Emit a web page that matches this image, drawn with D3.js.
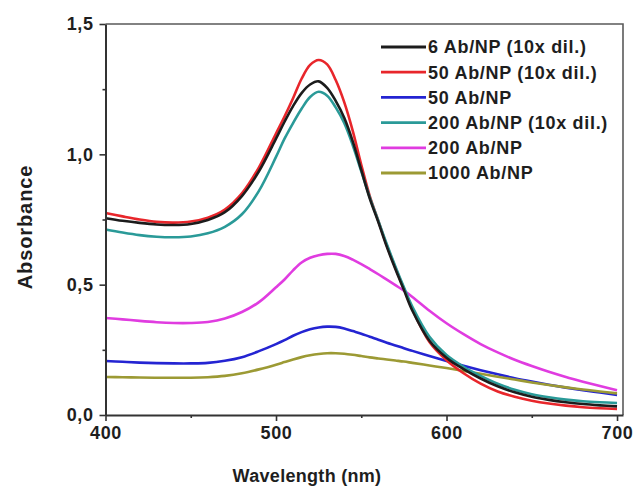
<!DOCTYPE html>
<html>
<head>
<meta charset="utf-8">
<script src="https://cdn.jsdelivr.net/npm/d3@7"></script>
<style>
  html, body { margin: 0; padding: 0; background: #fff; }
  svg { display: block; }
  text { font-family: "Liberation Sans", Arial, sans-serif; font-weight: bold; fill: #1e1e1e; }
</style>
</head>
<body>
<svg id="chart" width="634" height="486"></svg>
<script>
// Wavelength grid (nm), shared by all spectra
const wavelengths = [400, 410, 420, 430, 440, 450, 460, 470, 480, 490,
  500, 505, 510, 515, 520, 525, 530, 535, 540, 545, 550, 555, 560, 565, 570, 575, 580,
  590, 600, 610, 620, 630, 640, 650, 660, 670, 680, 690, 700];

// Absorbance spectra
const ab6dil = [0.755, 0.745, 0.737, 0.731, 0.729, 0.733, 0.748, 0.778, 0.840, 0.935,
  1.060, 1.125, 1.185, 1.235, 1.268, 1.280, 1.255, 1.205, 1.140, 1.050, 0.940, 0.830, 0.740, 0.645, 0.560, 0.480, 0.400,
  0.285, 0.220, 0.176, 0.140, 0.110, 0.087, 0.070, 0.058, 0.049, 0.042, 0.037, 0.033];
const ab50dil = [0.775, 0.762, 0.750, 0.741, 0.738, 0.742, 0.757, 0.788, 0.850, 0.950,
  1.080, 1.145, 1.215, 1.290, 1.343, 1.362, 1.345, 1.285, 1.200, 1.090, 0.960, 0.840, 0.745, 0.650, 0.565, 0.485, 0.405,
  0.280, 0.210, 0.160, 0.120, 0.090, 0.070, 0.055, 0.044, 0.036, 0.030, 0.026, 0.023];
const ab50 = [0.207, 0.204, 0.201, 0.199, 0.198, 0.198, 0.200, 0.208, 0.222, 0.245,
  0.272, 0.287, 0.304, 0.318, 0.329, 0.336, 0.339, 0.338, 0.332, 0.322, 0.312, 0.300, 0.289, 0.277, 0.267, 0.256, 0.246,
  0.226, 0.207, 0.189, 0.172, 0.156, 0.141, 0.128, 0.116, 0.105, 0.095, 0.086, 0.077];
const ab200dil = [0.712, 0.700, 0.690, 0.684, 0.682, 0.685, 0.697, 0.722, 0.770, 0.860,
  0.990, 1.060, 1.120, 1.175, 1.220, 1.240, 1.225, 1.180, 1.120, 1.035, 0.935, 0.835, 0.745, 0.655, 0.570, 0.490, 0.415,
  0.300, 0.230, 0.185, 0.150, 0.120, 0.097, 0.080, 0.068, 0.059, 0.053, 0.049, 0.046];
const ab200 = [0.372, 0.367, 0.361, 0.356, 0.353, 0.353, 0.357, 0.370, 0.395, 0.433,
  0.490, 0.520, 0.555, 0.585, 0.603, 0.613, 0.618, 0.618, 0.610, 0.596, 0.579, 0.560, 0.540, 0.519, 0.498, 0.477, 0.453,
  0.400, 0.352, 0.310, 0.272, 0.240, 0.212, 0.188, 0.166, 0.146, 0.128, 0.111, 0.095];
const ab1000 = [0.146, 0.145, 0.144, 0.143, 0.143, 0.143, 0.145, 0.150, 0.160, 0.175,
  0.193, 0.203, 0.213, 0.222, 0.229, 0.234, 0.237, 0.237, 0.235, 0.231, 0.226, 0.221, 0.217, 0.213, 0.209, 0.205, 0.200,
  0.190, 0.180, 0.169, 0.158, 0.147, 0.136, 0.125, 0.115, 0.106, 0.098, 0.090, 0.083];

const seriesNames = ["6 Ab/NP (10x dil.)", "50 Ab/NP (10x dil.)", "50 Ab/NP",
  "200 Ab/NP (10x dil.)", "200 Ab/NP", "1000 Ab/NP"];
const seriesColors = ["#1c1c1c", "#e8262b", "#2424d2", "#2a9a98", "#e03ce0", "#9c9a34"];
const seriesValues = [ab6dil, ab50dil, ab50, ab200dil, ab200, ab1000];

const xTicks = [400, 500, 600, 700];
const xMinor = [450, 550, 650];
const yTicks = [0, 0.5, 1.0, 1.5];
const yMinor = [0.25, 0.75, 1.25];

const svg = d3.select("#chart");
const x = d3.scaleLinear().domain([400, 703.5]).range([105.5, 623]);
const y = d3.scaleLinear().domain([0, 1.5]).range([415, 24]);
const fmt = d3.format(".1f");
const comma = v => fmt(v).replace(".", ",");

// Frame (top and right)
svg.append("path")
  .attr("d", `M${x(400)},${y(1.5)}H${x(703.5)}V${y(0)}`)
  .attr("fill", "none").attr("stroke", "#5a5a5a").attr("stroke-width", 1.6);

// Spectra
const line = d3.line()
  .x((d, i) => x(wavelengths[i]))
  .y(d => y(d))
  .curve(d3.curveCatmullRom.alpha(0.5));

const drawOrder = [4, 2, 5, 1, 3, 0];
svg.append("g").selectAll("path")
  .data(drawOrder)
  .join("path")
  .attr("d", k => line(seriesValues[k]))
  .attr("fill", "none")
  .attr("stroke", k => seriesColors[k])
  .attr("stroke-width", 2.6)
  .attr("stroke-linejoin", "round");

// Axes
const xAxis = svg.append("g").attr("transform", `translate(0,${y(0)})`)
  .call(d3.axisBottom(x).tickValues(xTicks).tickSize(6).tickPadding(5).tickSizeOuter(0));
const yAxis = svg.append("g").attr("transform", `translate(${x(400)},0)`)
  .call(d3.axisLeft(y).tickValues(yTicks).tickSize(6).tickPadding(6).tickFormat(comma).tickSizeOuter(0));
[xAxis, yAxis].forEach(g => {
  g.select(".domain").attr("stroke", "#333").attr("stroke-width", 2);
  g.selectAll(".tick line").attr("stroke", "#333").attr("stroke-width", 1.6);
  g.selectAll(".tick text").style("font-size", "18px").style("letter-spacing", "0.6px")
    .attr("fill", "#1e1e1e")
    .style("font-family", "'Liberation Sans', Arial, sans-serif").style("font-weight", "bold");
});

// Minor ticks
svg.append("g").attr("transform", `translate(0,${y(0)})`)
  .call(d3.axisBottom(x).tickValues(xMinor).tickSize(3).tickFormat(""))
  .call(g => g.select(".domain").remove())
  .selectAll("line").attr("stroke", "#333").attr("stroke-width", 1.6);
svg.append("g").attr("transform", `translate(${x(400)},0)`)
  .call(d3.axisLeft(y).tickValues(yMinor).tickSize(3).tickFormat(""))
  .call(g => g.select(".domain").remove())
  .selectAll("line").attr("stroke", "#333").attr("stroke-width", 1.6);

// Axis titles
svg.append("text")
  .attr("x", 307).attr("y", 482)
  .attr("text-anchor", "middle")
  .style("font-size", "18px")
  .style("letter-spacing", "0.3px")
  .text("Wavelength (nm)");
svg.append("text")
  .attr("transform", "translate(32,227) rotate(-90)")
  .attr("text-anchor", "middle")
  .style("font-size", "20px")
  .style("letter-spacing", "0.9px")
  .text("Absorbance");

// Legend
const legend = svg.append("g").attr("transform", "translate(381,47)");
const rows = legend.selectAll("g")
  .data(seriesNames.map((name, i) => ({ name, color: seriesColors[i] })))
  .join("g")
  .attr("transform", (d, i) => `translate(0,${i * 25.2})`);
rows.append("line")
  .attr("x1", 0).attr("x2", 45)
  .attr("stroke", d => d.color).attr("stroke-width", 2.8);
rows.append("text")
  .attr("x", 47).attr("dy", "0.36em")
  .style("font-size", "18px")
  .style("letter-spacing", "0.7px")
  .text(d => d.name);
</script>
</body>
</html>
